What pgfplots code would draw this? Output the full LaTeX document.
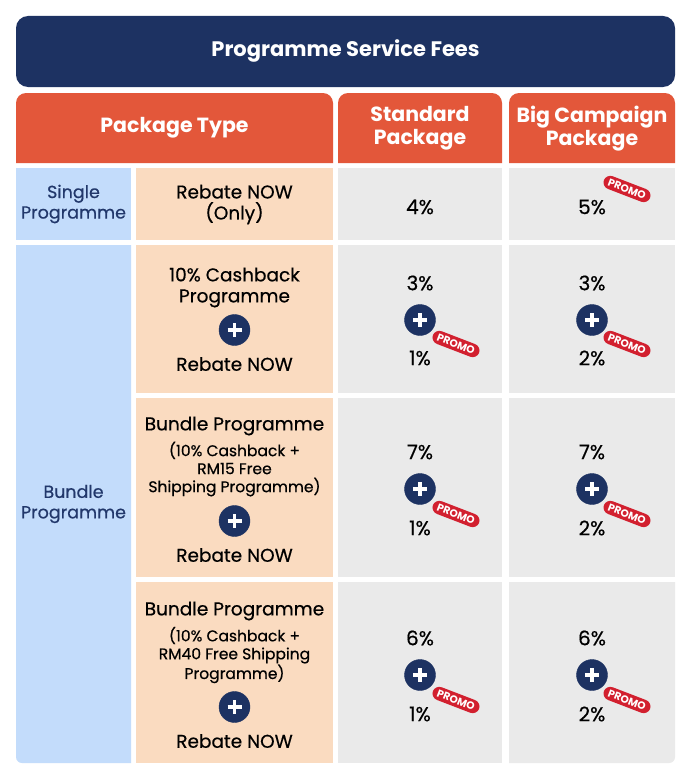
\documentclass[border=0pt]{standalone}
\usepackage{pgfplots}
\pgfplotsset{compat=1.18}
\usepackage{fontspec}
\setmainfont{Poppins}[UprightFeatures={FakeBold=0.5}]
\definecolor{navy}{HTML}{1D3262}
\definecolor{hdr}{HTML}{E3573A}
\definecolor{lblue}{HTML}{C3DCFB}
\definecolor{peach}{HTML}{FADBC0}
\definecolor{lgrey}{HTML}{EAEAEA}
\definecolor{promored}{HTML}{D2202F}
\definecolor{txtnavy}{HTML}{22386B}
\newcommand{\fs}[2]{\fontsize{#1}{#2}\selectfont}
\begin{document}
\begin{tikzpicture}
\begin{axis}[width=690pt,height=776pt,scale only axis,
  xmin=0,xmax=690,ymin=0,ymax=776,y dir=reverse,hide axis,clip=false]
\fill[white] (axis cs:0,0) rectangle (axis cs:690,776);
% title
\fill[navy, rounded corners=12pt] (axis cs:16,16) rectangle (axis cs:675,87);
\node[text=white, font=\bfseries\fs{21}{24}] at (axis cs:345.5,51) {Programme Service Fees};
% header
\fill[hdr] (axis cs:16,163) [rounded corners=10pt]-- (axis cs:16,93) -- (axis cs:333,93) [sharp corners]-- (axis cs:333,163) -- cycle;
\fill[hdr] (axis cs:338,163) [rounded corners=10pt]-- (axis cs:338,93) -- (axis cs:502,93) [sharp corners]-- (axis cs:502,163) -- cycle;
\fill[hdr] (axis cs:509,163) [rounded corners=10pt]-- (axis cs:509,93) -- (axis cs:675,93) [sharp corners]-- (axis cs:675,163) -- cycle;
\node[text=white, font=\bfseries\fs{20.5}{23}] at (axis cs:174.5,128) {Package Type};
\node[text=white, font=\bfseries\fs{20.5}{23}, align=center] at (axis cs:420,128.5) {Standard\\Package};
\node[text=white, font=\bfseries\fs{20.5}{23}, align=center] at (axis cs:592,128.5) {Big Campaign\\Package};
% column 1
\fill[lblue] (axis cs:16,168) rectangle (axis cs:131,240);
\fill[lblue] (axis cs:16,245) -- (axis cs:131,245) -- (axis cs:131,763) [rounded corners=6pt]-- (axis cs:16,763) [sharp corners]-- cycle;
\node[text=txtnavy, font=\fs{17.5}{20.5}, align=center] at (axis cs:73.5,204) {Single\\Programme};
\node[text=txtnavy, font=\fs{17.5}{20.5}, align=center] at (axis cs:73.5,504) {Bundle\\Programme};
% column 2
\fill[peach] (axis cs:136,168) rectangle (axis cs:333,240);
\fill[peach] (axis cs:136,245) rectangle (axis cs:333,393);
\fill[peach] (axis cs:136,398) rectangle (axis cs:333,577);
\fill[peach] (axis cs:136,582) rectangle (axis cs:333,763);
% columns 3,4
\fill[lgrey] (axis cs:338,168) rectangle (axis cs:502,240);
\fill[lgrey] (axis cs:509,168) rectangle (axis cs:675,240);
\fill[lgrey] (axis cs:338,245) rectangle (axis cs:502,393);
\fill[lgrey] (axis cs:509,245) rectangle (axis cs:675,393);
\fill[lgrey] (axis cs:338,398) rectangle (axis cs:502,577);
\fill[lgrey] (axis cs:509,398) rectangle (axis cs:675,577);
\fill[lgrey] (axis cs:338,582) rectangle (axis cs:502,763);
\fill[lgrey] (axis cs:509,582) -- (axis cs:675,582) [rounded corners=6pt]-- (axis cs:675,763) [sharp corners]-- (axis cs:509,763) -- cycle;
% column 2 text
\node[font=\fs{18.5}{21}, align=center] at (axis cs:234.5,204.5) {Rebate NOW\\(Only)};
\node[font=\fs{18.5}{21}, align=center] at (axis cs:234.5,287.5) {10\% Cashback\\Programme};
\node[font=\fs{18.5}{21}] at (axis cs:234.5,364) {Rebate NOW};
\node[font=\fs{18.5}{21}] at (axis cs:234.5,426) {Bundle Programme};
\node[font=\fs{15.5}{18}, align=center] at (axis cs:234.5,469) {(10\% Cashback +\\RM15 Free\\Shipping Programme)};
\node[font=\fs{18.5}{21}] at (axis cs:234.5,555) {Rebate NOW};
\node[font=\fs{18.5}{21}] at (axis cs:234.5,611) {Bundle Programme};
\node[font=\fs{15.5}{18}, align=center] at (axis cs:234.5,655) {(10\% Cashback +\\RM40 Free Shipping\\Programme)};
\node[font=\fs{18.5}{21}] at (axis cs:234.5,741) {Rebate NOW};
% plus circles
\addplot[only marks, mark=*, mark size=15.5pt, color=navy] coordinates {
(234.5,330) (234.5,521) (234.5,707)
(420,320) (420,489) (420,675)
(592,320) (592,489) (592,675)};
\addplot[only marks, mark=+, mark size=7pt, color=white, line width=3.6pt] coordinates {
(234.5,330) (234.5,521) (234.5,707)
(420,320) (420,489) (420,675)
(592,320) (592,489) (592,675)};
% fee values
\addplot[draw=none, mark=none, point meta=explicit symbolic,
  nodes near coords={\pgfplotspointmeta\%},
  nodes near coords style={anchor=center, font=\fs{20}{22}, text=black}]
  table[meta=v] {
x y v
420 207 4
592 207 5
420 283 3
420 358 1
592 283 3
592 358 2
420 452 7
420 528 1
592 452 7
592 528 2
420 638 6
420 714 1
592 638 6
592 714 2
};
% promo badges
\addplot[draw=none, mark=none, nodes near coords={PROMO},
  nodes near coords style={anchor=center, fill=promored, text=white,
  rounded corners=7pt, rotate=-21, font=\bfseries\fs{10.5}{11}, inner xsep=5pt, inner ysep=3pt}]
  coordinates {(627,189) (456,344) (627,344) (456,514) (627,514) (456,700) (627,700)};
\end{axis}
\end{tikzpicture}
\end{document}
